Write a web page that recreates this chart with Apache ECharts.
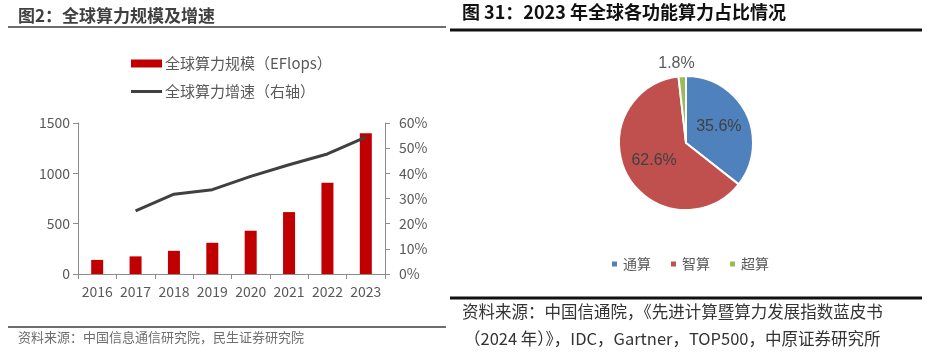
<!DOCTYPE html>
<html>
<head>
<meta charset="utf-8">
<script src="https://cdn.jsdelivr.net/npm/echarts@6/dist/echarts.min.js"></script>
<style>
html,body{margin:0;padding:0;background:#fff;}
#c{width:933px;height:359px;}
</style>
</head>
<body>
<div id="c"></div>
<script>
// ---- data ----
var years = ['2016','2017','2018','2019','2020','2021','2022','2023'];
var scaleValues = [140, 175, 230, 310, 430, 615, 906, 1397];          // EFlops
var growthValues = [null, 25.1, 31.7, 33.5, 38.8, 43.4, 47.7, 54.4];  // %
var leftTicks = [0, 500, 1000, 1500];
var rightTicks = [0, 10, 20, 30, 40, 50, 60];
var pieNames = ['通算', '智算', '超算'];
var pieValues = [35.6, 62.6, 1.8];

var leftTitle = '图2：全球算力规模及增速';
var leftSource = '资料来源：中国信息通信研究院，民生证券研究院';
var rightTitle = '图 31：2023 年全球各功能算力占比情况';
var rightSource1 = '资料来源：中国信通院，《先进计算暨算力发展指数蓝皮书';
var rightSource2 = '（2024 年）》，IDC，Gartner，TOP500，中原证券研究所';
var barName = '全球算力规模（EFlops）';
var lineName = '全球算力增速（右轴）';

var sans = '"Noto Sans CJK SC","Noto Sans",sans-serif';
var axisGray = '#8c8c8c';
var labelGray = '#595959';
var pieColors = ['#4f81bd', '#c0504d', '#9bbb59'];

var chart = echarts.init(document.getElementById('c'), null, {renderer: 'canvas'});

var pieData = pieNames.map(function (n, i) {
  var d = {name: n, value: pieValues[i], itemStyle: {color: pieColors[i]}};
  if (i === 2) {
    d.label = {position: 'outside', color: '#595959'};
    d.labelLine = {show: false, length: 13, length2: 0};
  }
  return d;
});

var option = {
  animation: false,
  backgroundColor: '#fff',
  textStyle: {fontFamily: sans},
  legend: [
    {
      data: [{name: barName, icon: 'rect'}],
      left: 131, top: 56, padding: 0,
      itemWidth: 31, itemHeight: 8, itemGap: 4,
      textStyle: {fontSize: 15, color: labelGray, fontFamily: sans, padding: [0,0,0,-2]}
    },
    {
      data: [{name: lineName, icon: 'rect'}],
      left: 131, top: 84, padding: 0,
      itemWidth: 31, itemHeight: 3,
      textStyle: {fontSize: 15, color: labelGray, fontFamily: sans, padding: [0,0,0,-2]}
    },
    {
      data: pieNames,
      left: 605, top: 252,
      icon: 'rect', itemWidth: 7, itemHeight: 7, itemGap: 18,
      textStyle: {fontSize: 14, color: labelGray, fontFamily: sans}
    }
  ],
  grid: {left: 78, right: 548, top: 123, bottom: 85, containLabel: false},
  xAxis: {
    type: 'category',
    data: years,
    boundaryGap: true,
    axisLine: {lineStyle: {color: axisGray, width: 1}},
    axisTick: {show: true, length: 5, lineStyle: {color: axisGray}},
    axisLabel: {interval: 0, fontSize: 14, color: labelGray, margin: 11, fontFamily: sans}
  },
  yAxis: [
    {
      type: 'value', min: leftTicks[0], max: leftTicks[leftTicks.length-1], interval: 500,
      axisLine: {show: true, lineStyle: {color: axisGray}},
      axisTick: {show: true, length: 5, lineStyle: {color: axisGray}},
      splitLine: {show: false},
      axisLabel: {fontSize: 14, color: labelGray, margin: 8, fontFamily: sans,
        formatter: function (v) { return String(v); }}
    },
    {
      type: 'value', min: rightTicks[0], max: rightTicks[rightTicks.length-1], interval: 10,
      position: 'right',
      axisLine: {show: true, lineStyle: {color: axisGray}},
      axisTick: {show: true, length: 5, lineStyle: {color: axisGray}},
      splitLine: {show: false},
      axisLabel: {fontSize: 14, color: labelGray, margin: 14, fontFamily: sans, formatter: '{value}%'}
    }
  ],
  series: [
    {
      name: barName, type: 'bar', data: scaleValues, yAxisIndex: 0,
      barWidth: 12, itemStyle: {color: '#c00000'}
    },
    {
      name: lineName, type: 'line', data: growthValues, yAxisIndex: 1,
      symbol: 'none', connectNulls: false,
      lineStyle: {color: '#404040', width: 3}, itemStyle: {color: '#404040'}
    },
    {
      type: 'pie',
      center: [686, 143], radius: 67,
      startAngle: 90, clockwise: true,
      itemStyle: {borderColor: '#fff', borderWidth: 2},
      label: {
        show: true, position: 'inside', fontSize: 16, color: '#404040',
        fontFamily: '"Liberation Sans",Arial,sans-serif',
        formatter: function (p) { return p.value.toFixed(1) + '%'; }
      },
      labelLine: {show: false},
      labelLayout: function (p) {
        return p.dataIndex === 2 ? {align: 'center'} : {};
      },
      data: pieData
    }
  ],
  graphic: [
    {type: 'text', left: 18, top: 7, style: {text: leftTitle, font: 'bold 17px ' + sans, fill: '#404040'}},
    {type: 'line', shape: {x1: 8, y1: 27, x2: 446, y2: 27}, style: {stroke: '#6e6e6e', lineWidth: 2}},
    {type: 'line', shape: {x1: 8, y1: 327, x2: 446, y2: 327}, style: {stroke: '#6e6e6e', lineWidth: 2}},
    {type: 'text', left: 18, top: 331, style: {text: leftSource, font: '13px ' + sans, fill: '#6e6e6e'}},
    {type: 'text', left: 462, top: 3, style: {text: rightTitle, font: 'bold 18px ' + sans, fill: '#111'}},
    {type: 'line', shape: {x1: 450, y1: 30, x2: 922, y2: 30}, style: {stroke: '#111', lineWidth: 3}},
    {type: 'line', shape: {x1: 450, y1: 298, x2: 922, y2: 298}, style: {stroke: '#111', lineWidth: 3}},
    {type: 'text', left: 462, top: 303, style: {text: rightSource1, font: '16.5px ' + sans, fill: '#333'}},
    {type: 'text', left: 464, top: 330, style: {text: rightSource2, font: '16.5px ' + sans, fill: '#333'}}
  ]
};
chart.setOption(option);
</script>
</body>
</html>
